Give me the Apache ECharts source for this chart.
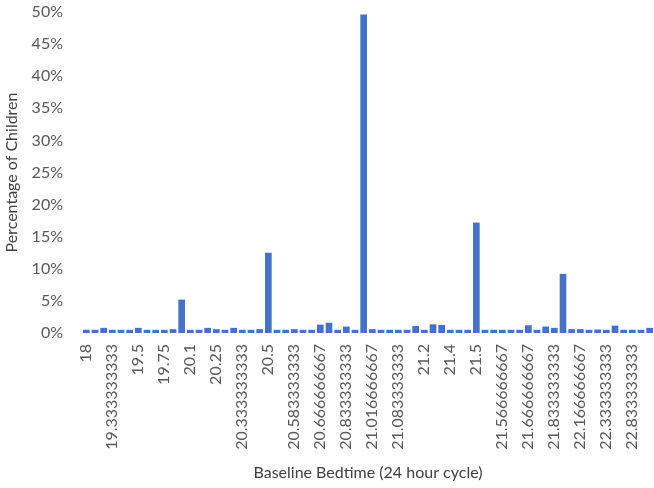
<!DOCTYPE html>
<html>
<head>
<meta charset="utf-8">
<script src="https://cdn.jsdelivr.net/npm/echarts@6/dist/echarts.min.js"></script>
<style>html,body{margin:0;padding:0;background:#fff;}#c{width:654px;height:488px;}</style>
</head>
<body>
<div id="c"></div>
<script>
const categories = [
  '18','18.5','19','19.333333333','19.416666667','19.45','19.5','19.583333333','19.666666667','19.75',
  '19.833333333','20','20.1','20.166666667','20.2','20.25','20.3','20.316666667','20.333333333','20.416666667',
  '20.45','20.5','20.516666667','20.55','20.583333333','20.616666667','20.65','20.666666667','20.75','20.8',
  '20.833333333','20.916666667','21','21.016666667','21.05','21.066666667','21.083333333','21.1','21.166666667','21.2',
  '21.25','21.333333333','21.4','21.416666667','21.45','21.5','21.516666667','21.55','21.566666667','21.583333333',
  '21.616666667','21.666666667','21.7','21.75','21.833333333','22','22.083333333','22.166666667','22.25','22.3',
  '22.333333333','22.5','22.75','22.833333333','23','23.5'
];
const percentValues = [
  0.5,0.5,0.8,0.5,0.5,0.5,0.8,0.5,0.5,0.5,
  0.6,5.2,0.5,0.5,0.8,0.6,0.5,0.8,0.5,0.5,
  0.6,12.5,0.5,0.5,0.6,0.5,0.5,1.3,1.6,0.5,
  1.0,0.5,49.6,0.6,0.5,0.5,0.5,0.5,1.1,0.5,
  1.35,1.25,0.5,0.5,0.5,17.2,0.5,0.5,0.5,0.5,
  0.5,1.2,0.5,1.0,0.8,9.2,0.6,0.6,0.5,0.55,
  0.5,1.15,0.5,0.5,0.5,0.8
];
const yTicks = { min: 0, max: 50, interval: 5 };

const chart = echarts.init(document.getElementById('c'));
const txt = '#595959';
const font = 'Lato, "Liberation Sans", sans-serif';
chart.setOption({
  animation: false,
  grid: { left: 82, right: 0, top: 12, bottom: 155, containLabel: false, outerBoundsMode: 'none' },
  xAxis: {
    type: 'category',
    data: categories,
    name: 'Baseline Bedtime (24 hour cycle)',
    nameLocation: 'middle',
    nameGap: 132,
    nameTextStyle: { color: '#404040', fontSize: 16, fontFamily: font },
    axisLine: { show: false },
    axisTick: { show: false },
    axisLabel: { interval: 2, rotate: 90, color: txt, fontSize: 16, fontFamily: font, margin: 11 }
  },
  yAxis: {
    type: 'value',
    min: yTicks.min, max: yTicks.max, interval: yTicks.interval,
    name: 'Percentage of Children',
    nameLocation: 'middle',
    nameGap: 62,
    nameTextStyle: { color: '#404040', fontSize: 16, fontFamily: font },
    axisLine: { show: false },
    axisTick: { show: false },
    splitLine: { show: false },
    axisLabel: { formatter: '{value}%', color: txt, fontSize: 16, fontFamily: font, margin: 19 }
  },
  series: [{
    type: 'bar',
    data: percentValues,
    barCategoryGap: '23%',
    itemStyle: { color: '#4472C4' }
  }]
});
</script>
</body>
</html>
